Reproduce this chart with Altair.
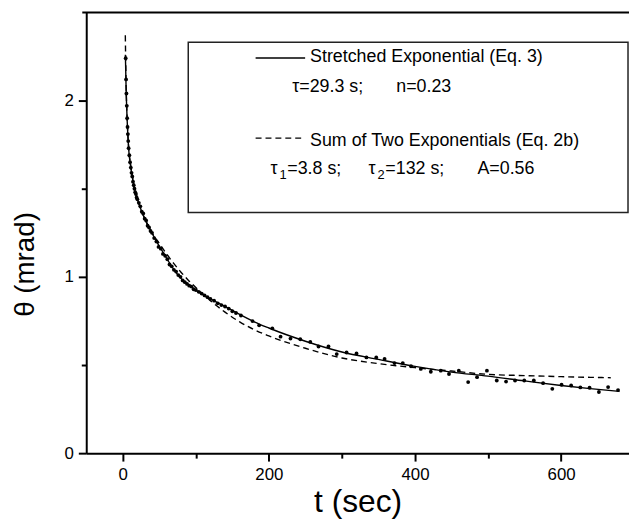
import altair as alt
import pandas as pd

# ---------------- data ----------------
data_t = [4, 4.5, 5, 5.5, 6, 6.5, 7, 7.5, 8, 9, 10, 11, 12, 13, 14, 15, 16, 17, 18, 19,
          20, 22, 24, 26, 28, 30, 32, 34, 36, 38, 40, 43, 46, 49, 52, 55, 58, 61, 64, 67,
          70, 73, 76, 79, 82, 85, 88, 91, 94, 97, 100, 104, 108, 112, 116, 120, 125, 130,
          135, 140, 145, 150, 155,
          161.8, 177.6, 186.7, 204.7, 216, 229.6, 243, 256.7, 268, 281.6, 292.9, 306.4,
          320, 333.6, 347, 358.4, 372, 383.3, 394.6, 408, 421.7, 435.3, 446.6, 460, 472.8,
          485, 498.5, 512, 524.7, 537, 549.6, 562.7, 575.4, 588, 600.7, 613.8, 626.4, 639,
          651.8, 664.4, 678]
data_theta = [2.24, 2.12, 2.04, 1.97, 1.90, 1.85, 1.81, 1.77, 1.73, 1.69, 1.65, 1.62, 1.59,
              1.57, 1.54, 1.52, 1.50, 1.48, 1.47, 1.45, 1.44, 1.42, 1.40, 1.37, 1.36, 1.33,
              1.32, 1.29, 1.28, 1.26, 1.25, 1.22, 1.20, 1.17, 1.16, 1.13, 1.12, 1.10, 1.07,
              1.06, 1.04, 1.03, 1.01, 1.00, 0.98, 0.97, 0.96, 0.95, 0.945, 0.93, 0.925, 0.915,
              0.905, 0.895, 0.885, 0.875, 0.865, 0.85, 0.84, 0.832, 0.82, 0.805, 0.795,
              0.781, 0.749, 0.725, 0.708, 0.661, 0.650, 0.646, 0.631, 0.605, 0.605, 0.562,
              0.571, 0.566, 0.543, 0.543, 0.534, 0.511, 0.511, 0.493, 0.478, 0.462, 0.468,
              0.449, 0.468, 0.403, 0.431, 0.468, 0.412, 0.406, 0.412, 0.412, 0.412, 0.397,
              0.365, 0.388, 0.384, 0.373, 0.371, 0.347, 0.375, 0.358]

stretch_t = [3.6, 4.5, 6, 8, 11, 15, 20, 26, 35, 45, 55, 67, 80, 90, 100, 120, 140, 160,
             180, 200, 250, 300, 350, 400, 450, 500, 550, 600, 640, 680]
stretch_theta = [2.26, 2.08, 1.89, 1.73, 1.62, 1.52, 1.44, 1.37, 1.29, 1.21, 1.14, 1.06,
                 0.99, 0.955, 0.925, 0.875, 0.833, 0.787, 0.745, 0.71, 0.635, 0.574, 0.532,
                 0.492, 0.46, 0.437, 0.41, 0.384, 0.366, 0.35]

twoexp_t = [3.5, 4.5, 6, 8, 11, 15, 22, 30, 40, 50, 60, 70, 80, 90, 100, 120, 140, 160,
            180, 200, 250, 300, 350, 400, 450, 500, 550, 600, 640, 668]
twoexp_theta = [2.37, 2.10, 1.90, 1.74, 1.63, 1.53, 1.42, 1.33, 1.25, 1.19, 1.13, 1.075,
                1.025, 0.98, 0.94, 0.865, 0.80, 0.745, 0.70, 0.665, 0.595, 0.54, 0.508,
                0.485, 0.466, 0.447, 0.44, 0.434, 0.43, 0.428]

x_major = [0, 200, 400, 600]
x_minor = [100, 300, 500]
y_major = [0, 1, 2]
y_minor = [0.5, 1.5]

# legend texts: (main text pieces) and subscripts
legend_texts = ["Stretched Exponential (Eq. 3)", "\u03c4=29.3 s;", "n=0.23",
                "Sum of Two Exponentials (Eq. 2b)", "\u03c4", "=3.8 s;",
                "\u03c4", "=132 s;", "A=0.56"]
legend_subs = ["1", "2"]

# ---------------- chart ----------------
W, H = 548, 445
FONT = "Liberation Sans"

pts_df = pd.DataFrame({"t": data_t, "theta": data_theta})
st_df = pd.DataFrame({"t": stretch_t, "theta": stretch_theta})
te_df = pd.DataFrame({"t": twoexp_t, "theta": twoexp_theta})
one = pd.DataFrame({"a": [0]})

xs = alt.Scale(domain=[-50, 693], nice=False, zero=False)
ys = alt.Scale(domain=[0, 2.5], nice=False, zero=False)

common_axis = dict(domainColor="black", domainWidth=2, tickColor="black", tickWidth=2,
                   labelColor="black", labelFont=FONT, labelFontSize=17, grid=False,
                   labelFlush=False, labelOverlap=False)

x_axis = alt.Axis(orient="bottom", values=x_major, tickSize=8, labelPadding=6,
                  title="t (sec)", titleFont=FONT, titleFontSize=32,
                  titleFontWeight="normal", titleColor="black", titleY=59,
                  titleBaseline="alphabetic", format="d", **common_axis)
y_axis = alt.Axis(orient="left", values=y_major, tickSize=8, labelPadding=5,
                  title="\u03b8 (mrad)", titleFont=FONT, titleFontSize=28,
                  titleFontWeight="normal", titleColor="black", titleAngle=270,
                  titleX=-53, titleY=254, titleBaseline="alphabetic",
                  titleAlign="center", format="d", **common_axis)
x_axis_minor = alt.Axis(orient="bottom", values=x_minor, tickSize=5, tickWidth=2,
                        tickColor="black", labels=False, domain=False, grid=False,
                        title=None, offset=0)
y_axis_minor = alt.Axis(orient="left", values=y_minor, tickSize=5, tickWidth=2,
                        tickColor="black", labels=False, domain=False, grid=False,
                        title=None, offset=0)

stretched = alt.Chart(st_df).mark_line(color="black", strokeWidth=1.4,
                                        interpolate="monotone").encode(
    x=alt.X("t:Q", scale=xs, axis=x_axis),
    y=alt.Y("theta:Q", scale=ys, axis=y_axis),
)
twoexp = alt.Chart(te_df).mark_line(color="black", strokeWidth=1.4, strokeDash=[6, 4],
                                     interpolate="monotone").encode(
    x=alt.X("t:Q", scale=xs, axis=x_axis_minor),
    y=alt.Y("theta:Q", scale=ys, axis=y_axis_minor),
)
points = alt.Chart(pts_df).mark_circle(size=15, color="black", opacity=1).encode(
    x=alt.X("t:Q", scale=xs, axis=None),
    y=alt.Y("theta:Q", scale=ys, axis=None),
)

top_border = alt.Chart(one).mark_rule(color="black", strokeWidth=2).encode(
    x=alt.value(-4), x2=alt.value(W), y=alt.value(0))

box = alt.Chart(one).mark_rect(fill="white", fillOpacity=0, stroke="#222222",
                               strokeWidth=1.5).encode(
    x=alt.value(103), x2=alt.value(547), y=alt.value(30), y2=alt.value(202))

leg_solid = alt.Chart(one).mark_rule(color="black", strokeWidth=1.3).encode(
    x=alt.value(171), x2=alt.value(221), y=alt.value(46))
leg_dash = alt.Chart(one).mark_rule(color="black", strokeWidth=1.3,
                                    strokeDash=[6, 4]).encode(
    x=alt.value(171), x2=alt.value(221), y=alt.value(127))

text_pos = [(226, 50), (208, 80), (313, 80), (226, 135),
            (186, 163), (203, 163), (285, 163), (302, 163), (395, 163)]
sub_pos = [(195, 168), (294, 168)]
texts = []
for s, (px, py) in zip(legend_texts, text_pos):
    texts.append(alt.Chart(one).mark_text(text=s, align="left", baseline="alphabetic",
                                          font=FONT, fontSize=18, color="black").encode(
        x=alt.value(px), y=alt.value(py)))
for s, (px, py) in zip(legend_subs, sub_pos):
    texts.append(alt.Chart(one).mark_text(text=s, align="left", baseline="alphabetic",
                                          font=FONT, fontSize=13, color="black").encode(
        x=alt.value(px), y=alt.value(py)))

chart = alt.layer(stretched, twoexp, points, top_border, box, leg_solid, leg_dash,
                  *texts).resolve_axis(x="independent", y="independent").properties(
    width=W, height=H,
    autosize=alt.AutoSizeParams(type="none"),
    padding={"left": 79, "top": 2, "right": 0, "bottom": 64},
).configure_view(stroke=None)

chart.save("out.html", embed_options={"renderer": "svg", "actions": False})
